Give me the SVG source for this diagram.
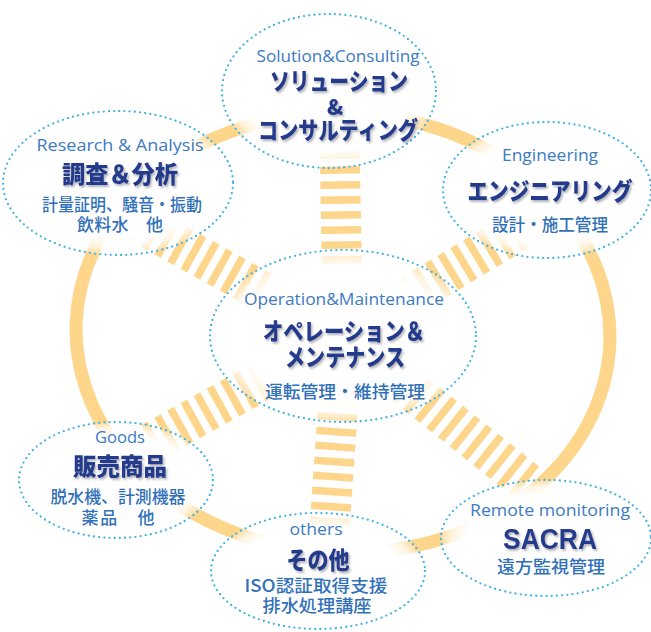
<svg xmlns="http://www.w3.org/2000/svg" xmlns:xlink="http://www.w3.org/1999/xlink" width="651" height="632" viewBox="0 0 651 632">
<defs>
<radialGradient id="nodeFill" cx="0.5" cy="0.5" r="0.5">
<stop offset="0" stop-color="#fff" stop-opacity="1"/>
<stop offset="0.76" stop-color="#fff" stop-opacity="1"/>
<stop offset="0.9" stop-color="#fff" stop-opacity="0.72"/>
<stop offset="1" stop-color="#fff" stop-opacity="0.2"/>
</radialGradient>
<filter id="shadow" x="-10%" y="-20%" width="125%" height="150%">
<feDropShadow dx="1.5" dy="2" stdDeviation="1.2" flood-color="#6f7280" flood-opacity="0.55"/>
</filter>
<rect id="bar" x="-3.75" y="-20" width="7.5" height="40" fill="#FDD58B"/>
<style>
.ring{fill:none;stroke:#FDD68C;stroke-width:13}
.node{fill:url(#nodeFill);stroke:#3FB2E6;stroke-width:2.3;stroke-dasharray:0 5.2;stroke-linecap:round}
.en{font-family:"Open Sans","Liberation Sans",sans-serif;font-size:17px;fill:#3C7AC3;text-anchor:middle}
.title{font-family:"Noto Sans CJK JP",sans-serif;font-size:24px;font-weight:900;fill:#233A8C;text-anchor:middle;filter:url(#shadow)}
.sub{font-family:"Noto Sans CJK JP",sans-serif;font-size:17px;font-weight:500;fill:#3070B9;text-anchor:middle}
</style>
</defs>
<rect width="651" height="632" fill="#fff"/>
<ellipse class="ring" cx="343" cy="333" rx="267" ry="220" transform="rotate(2.5 343 333)"/>
<g id="connectors">
<g transform="translate(343,336) rotate(-91)">
<use href="#bar" x="61"/><use href="#bar" x="76"/><use href="#bar" x="91"/><use href="#bar" x="106"/><use href="#bar" x="121"/><use href="#bar" x="136"/><use href="#bar" x="151"/><use href="#bar" x="166"/><use href="#bar" x="181"/>
</g>
<g transform="translate(343,336) rotate(94)">
<use href="#bar" x="66"/><use href="#bar" x="81"/><use href="#bar" x="96"/><use href="#bar" x="111"/><use href="#bar" x="126"/><use href="#bar" x="141"/><use href="#bar" x="156"/><use href="#bar" x="171"/><use href="#bar" x="186"/><use href="#bar" x="201"/>
</g>
<g transform="translate(343,336) rotate(-151)">
<use href="#bar" x="66"/><use href="#bar" x="81"/><use href="#bar" x="96"/><use href="#bar" x="111"/><use href="#bar" x="126"/><use href="#bar" x="141"/><use href="#bar" x="156"/><use href="#bar" x="171"/><use href="#bar" x="186"/><use href="#bar" x="201"/><use href="#bar" x="216"/><use href="#bar" x="231"/>
</g>
<g transform="translate(343,336) rotate(-31)">
<use href="#bar" x="66"/><use href="#bar" x="81"/><use href="#bar" x="96"/><use href="#bar" x="111"/><use href="#bar" x="126"/><use href="#bar" x="141"/><use href="#bar" x="156"/><use href="#bar" x="171"/><use href="#bar" x="186"/><use href="#bar" x="201"/><use href="#bar" x="216"/><use href="#bar" x="231"/>
</g>
<g transform="translate(343,336) rotate(151)">
<use href="#bar" x="66"/><use href="#bar" x="81"/><use href="#bar" x="96"/><use href="#bar" x="111"/><use href="#bar" x="126"/><use href="#bar" x="141"/><use href="#bar" x="156"/><use href="#bar" x="171"/><use href="#bar" x="186"/><use href="#bar" x="201"/><use href="#bar" x="216"/><use href="#bar" x="231"/>
</g>
<g transform="translate(343,336) rotate(38.5)">
<use href="#bar" x="66"/><use href="#bar" x="81"/><use href="#bar" x="96"/><use href="#bar" x="111"/><use href="#bar" x="126"/><use href="#bar" x="141"/><use href="#bar" x="156"/><use href="#bar" x="171"/><use href="#bar" x="186"/><use href="#bar" x="201"/><use href="#bar" x="216"/><use href="#bar" x="231"/><use href="#bar" x="246"/>
</g>
</g>
<g id="n-solution">
<ellipse class="node" cx="329" cy="91" rx="107" ry="77"/>
<text class="en" x="338" y="62" textLength="163" lengthAdjust="spacingAndGlyphs">Solution&amp;Consulting</text>
<text class="title" x="339" y="90" textLength="138" lengthAdjust="spacingAndGlyphs">ソリューション</text>
<text class="title" x="335" y="115" style="font-size:21px">&amp;</text>
<text class="title" x="338" y="139" textLength="160" lengthAdjust="spacingAndGlyphs">コンサルティング</text>
</g>
<g id="n-research">
<ellipse class="node" cx="118" cy="183" rx="115" ry="72"/>
<text class="en" x="120" y="151" textLength="167" lengthAdjust="spacingAndGlyphs">Research &amp; Analysis</text>
<text class="title" x="120" y="183" textLength="116" lengthAdjust="spacingAndGlyphs">調査＆分析</text>
<text class="sub" x="122" y="211" textLength="160" lengthAdjust="spacingAndGlyphs">計量証明、騒音・振動</text>
<text class="sub" x="120" y="231" textLength="86" lengthAdjust="spacing">飲料水　他</text>
</g>
<g id="n-engineering">
<ellipse class="node" cx="547" cy="190" rx="104" ry="68"/>
<text class="en" x="550" y="161" textLength="96" lengthAdjust="spacingAndGlyphs">Engineering</text>
<text class="title" x="550" y="200" textLength="165" lengthAdjust="spacingAndGlyphs">エンジニアリング</text>
<text class="sub" x="550" y="231" textLength="116" lengthAdjust="spacingAndGlyphs">設計・施工管理</text>
</g>
<g id="n-operation">
<ellipse class="node" cx="343" cy="336" rx="133" ry="86"/>
<text class="en" x="344" y="305" textLength="200" lengthAdjust="spacingAndGlyphs">Operation&amp;Maintenance</text>
<text class="title" x="344" y="340" textLength="162" lengthAdjust="spacingAndGlyphs">オペレーション＆</text>
<text class="title" x="345" y="366" textLength="120" lengthAdjust="spacingAndGlyphs">メンテナンス</text>
<text class="sub" x="345" y="398" textLength="160" lengthAdjust="spacingAndGlyphs">運転管理・維持管理</text>
</g>
<g id="n-goods">
<ellipse class="node" cx="116" cy="480" rx="97" ry="58"/>
<text class="en" x="120" y="443" textLength="50" lengthAdjust="spacingAndGlyphs">Goods</text>
<text class="title" x="120" y="475" textLength="94" lengthAdjust="spacingAndGlyphs">販売商品</text>
<text class="sub" x="118" y="503" textLength="135" lengthAdjust="spacingAndGlyphs">脱水機、計測機器</text>
<text class="sub" x="118" y="524" textLength="73" lengthAdjust="spacing">薬品　他</text>
</g>
<g id="n-others">
<ellipse class="node" cx="318" cy="571" rx="107" ry="58"/>
<text class="en" x="316" y="535" textLength="53" lengthAdjust="spacingAndGlyphs">others</text>
<text class="title" x="318" y="569" textLength="63" lengthAdjust="spacingAndGlyphs">その他</text>
<text class="sub" x="316" y="592" textLength="143" lengthAdjust="spacingAndGlyphs">ISO認証取得支援</text>
<text class="sub" x="317" y="612" textLength="109" lengthAdjust="spacingAndGlyphs">排水処理講座</text>
</g>
<g id="n-remote">
<ellipse class="node" cx="546" cy="538" rx="105" ry="58"/>
<text class="en" x="550" y="516" textLength="160" lengthAdjust="spacingAndGlyphs">Remote  monitoring</text>
<text class="title" x="550" y="549" style="font-family:'Liberation Sans',sans-serif;font-size:29px;font-weight:700" textLength="94" lengthAdjust="spacingAndGlyphs">SACRA</text>
<text class="sub" x="551" y="573" textLength="108" lengthAdjust="spacingAndGlyphs">遠方監視管理</text>
</g>
</svg>
